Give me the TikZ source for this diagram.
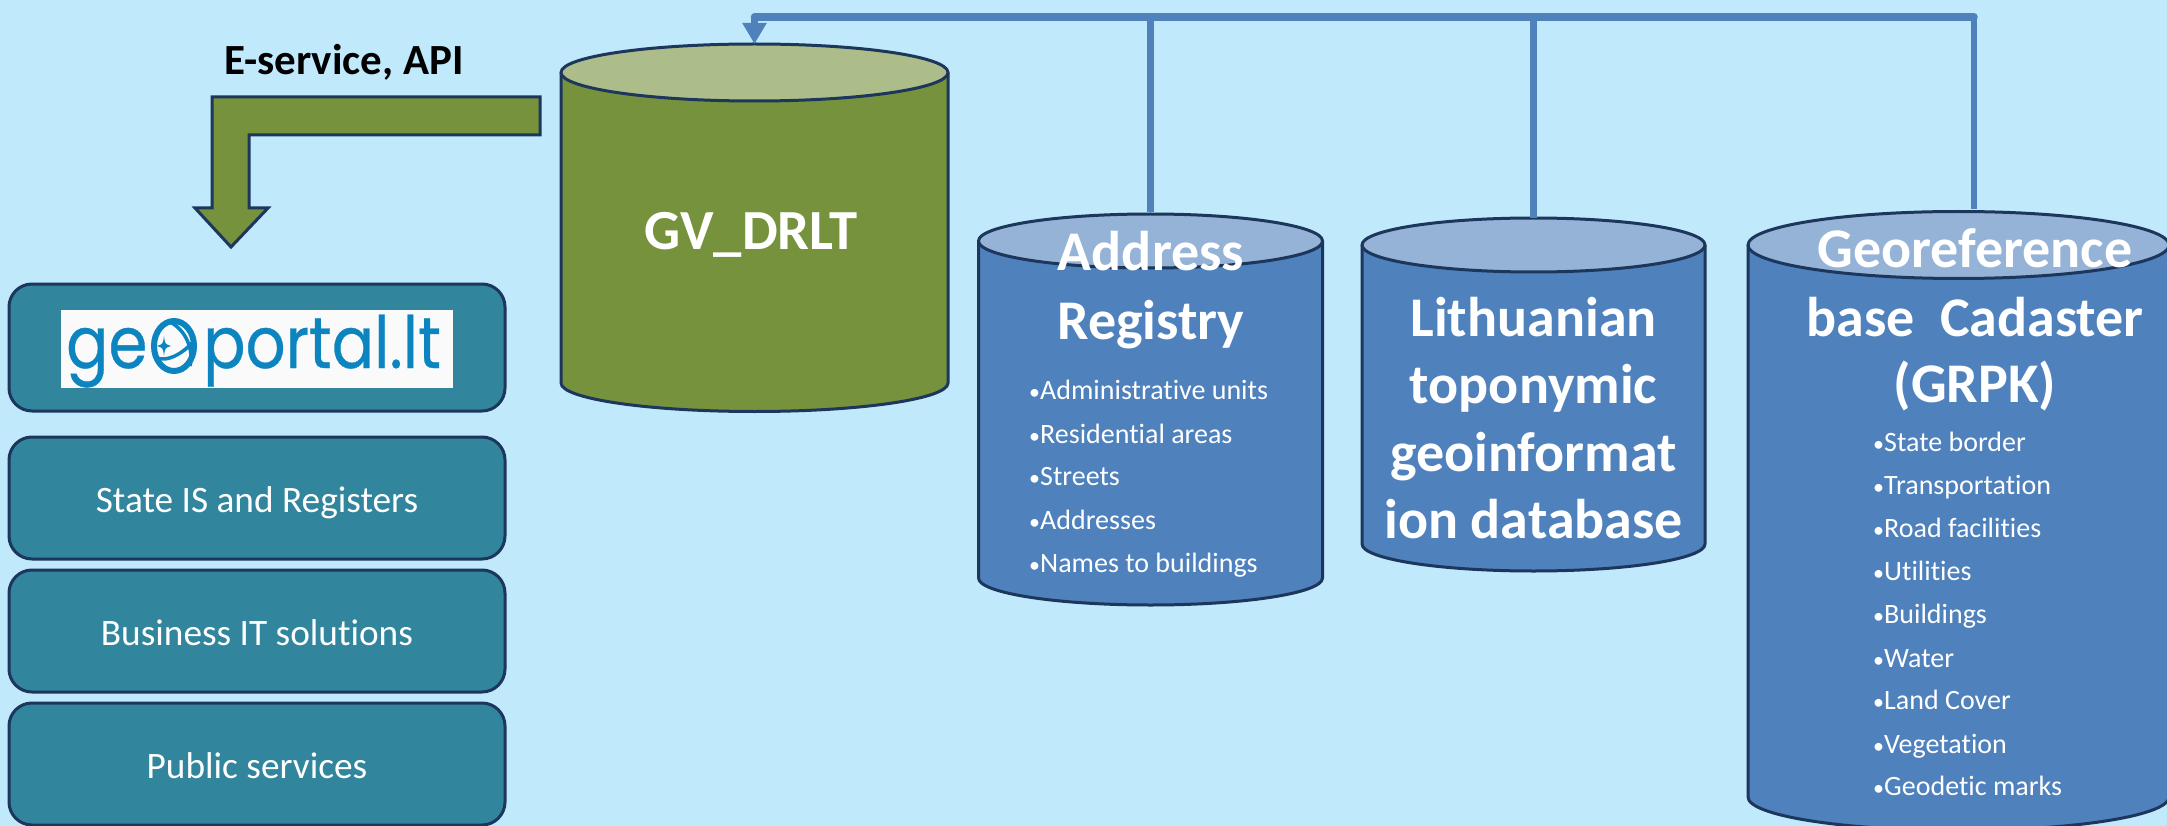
\documentclass[tikz,border=0pt]{standalone}
\usepackage{fontspec}
\setmainfont{Carlito}[Ligatures=NoCommon]
\newfontfamily\logofont{Poppins}[FakeBold=0.5]
\usetikzlibrary{arrows.meta,calc}
\definecolor{bgc}{RGB}{193,233,252}
\definecolor{edgec}{RGB}{28,54,92}
\definecolor{oliveb}{RGB}{118,146,60}
\definecolor{olivet}{RGB}{173,189,138}
\definecolor{blueb}{RGB}{79,129,189}
\definecolor{bluet}{RGB}{149,179,215}
\definecolor{tealb}{RGB}{49,133,156}
\definecolor{logoc}{RGB}{11,132,192}
\newcommand{\bul}{\makebox[11pt][l]{\fontsize{22}{26}\selectfont •}}
\tikzset{
  x=1pt,y=-1pt,
  cylout/.style={draw=edgec,line width=3pt,line join=round},
  panel/.style={draw=edgec,fill=tealb,line width=3pt,rounded corners=23pt,minimum width=496pt,minimum height=122pt,inner sep=0pt,text=white,text height=28pt,text depth=0pt,font=\fontsize{37.3}{44}\selectfont},
  head/.style={anchor=base,text=white,inner sep=0pt,font=\fontsize{56}{66}\selectfont\bfseries},
  item/.style={anchor=base west,text=white,inner sep=0pt,font=\fontsize{28}{32}\selectfont},
  logotext/.style={anchor=base west,inner sep=0pt,text=logoc,font=\fontsize{72}{80}\logofont\selectfont},
  conn/.style={draw=blueb,line width=6.5pt},
}
% name, left, right, top-ellipse centre y, bottom-ellipse centre y, ry, body, top
\newcommand{\cylshape}[8]{%
  \path[fill=#7] (#2,#4) -- (#2,#5) arc[start angle=180,end angle=0,x radius={(#3-#2)/2},y radius=#6] -- (#3,#4) -- cycle;
  \draw[cylout] (#2,#4) -- (#2,#5) arc[start angle=180,end angle=0,x radius={(#3-#2)/2},y radius=#6] -- (#3,#4);
  \draw[cylout,fill=#8] ({(#2+#3)/2},#4) ellipse[x radius={(#3-#2)/2},y radius=#6];
  \node[inner sep=0pt,outer sep=0pt,minimum width={(#3-#2)*1pt},minimum height={(#5-#4+2*#6)*1pt}] (#1) at ({(#2+#3)/2},{(#4+#5)/2}) {};
}
\begin{document}
\begin{tikzpicture}
\path[use as bounding box,fill=bgc] (0,0) rectangle (2167,826);
\clip (0,0) rectangle (2167,826);

% cylinders
\cylshape{gv}{561}{948}{72.5}{383}{28.5}{oliveb}{olivet}
\cylshape{addr}{978.5}{1322.5}{241}{578}{27}{blueb}{bluet}
\cylshape{lith}{1362}{1705}{245}{544}{27}{blueb}{bluet}
\cylshape{grpk}{1748}{2169}{245}{797}{33.5}{blueb}{bluet}

% connectors
\coordinate (busleft) at (gv.north |- 0,17);
\coordinate (busright) at (1974,17);
\coordinate (grpkport) at (1974,209);
\coordinate (addrport) at (addr.north |- 0,212);
\coordinate (lithport) at (lith.north |- 0,218);
\draw[conn] (addrport) -- (addrport |- busleft);
\draw[conn] (lithport) -- (lithport |- busleft);
\draw[conn] (grpkport) -- (busright);
\draw[conn,line width=7.5pt,line cap=round] (busright) -- (busleft);
\draw[conn,line width=6.5pt,-{Triangle[length=21pt,width=23pt,fill=blueb]}] (busleft) -- (gv.north);

% bent arrow
\draw[cylout,fill=oliveb,line join=miter] (540,97) -- (212,97) -- (212,208) -- (195,208) -- (231,247) -- (268,208) -- (249,208) -- (249,135) -- (540,135) -- cycle;
\node[anchor=base,inner sep=0pt,text=black,font=\fontsize{43}{50}\selectfont\bfseries] (esvc) at (344,75) {E-service, API};

% panels
\node[panel,minimum height=127pt,text height=0pt] (geobox) at (257,347.5) {};
\node[panel] (state) at (257,498) {State IS and Registers};
\node[panel] (biz) at (257,631) {Business IT solutions};
\node[panel] (pub) at (257,764) {Public services};

% logo
\node[fill=white!96!gray,inner sep=0pt,minimum width=392pt,minimum height=78pt] (logo) at (257,349) {};
\node[logotext] (lge) at (66,368) {\scalebox{.87}[1]{ge}};
\node[logotext] (lportal) at (203,368) {\scalebox{.87}[1]{portal.lt}};
\draw[logoc,line width=6pt] (174,346) ellipse[x radius=20,y radius=25];
\fill[logoc] (164,336) .. controls (165,344) .. (171,346) .. controls (165,348) .. (164,356) .. controls (163,348) .. (157,346) .. controls (163,344) .. (164,336) -- cycle;
\draw[logoc,line width=3.5pt] (170,322) .. controls (186,330) and (194,350) .. (190,366);
\draw[logoc,line width=3.5pt] (156,358) .. controls (168,362) and (182,354) .. (193,342);

% headings
\node[head,font=\fontsize{56.7}{66}\selectfont\bfseries] (gvname) at (751,250) {GV\_DRLT};
\node[head] (addr1) at (1151,271) {Address};
\node[head] (addr2) at (1151,339) {Registry};
\node[head] (lith1) at (1533.5,336) {Lithuanian};
\node[head] (lith2) at (1533.5,403) {toponymic};
\node[head] (lith3) at (1533.5,471) {geoinformat};
\node[head] (lith4) at (1533.5,538) {ion database};
\node[head] (grpk1) at (1975,268) {Georeference};
\node[head] (grpk2) at (1975,336) {base\ \ Cadaster};
\node[head] (grpk3) at (1975,402) {(GRPK)};

% lists
\foreach \t/\y in {Administrative units/399,Residential areas/443,Streets/485,Addresses/529,Names to buildings/572}
  \node[item] at (1029,\y) {\bul\t};
\foreach \t/\y in {State border/451,Transportation/494,Road facilities/537,Utilities/580,Buildings/623,Water/667,Land Cover/709,Vegetation/753,Geodetic marks/795}
  \node[item] at (1873,\y) {\bul\t};
\end{tikzpicture}
\end{document}
